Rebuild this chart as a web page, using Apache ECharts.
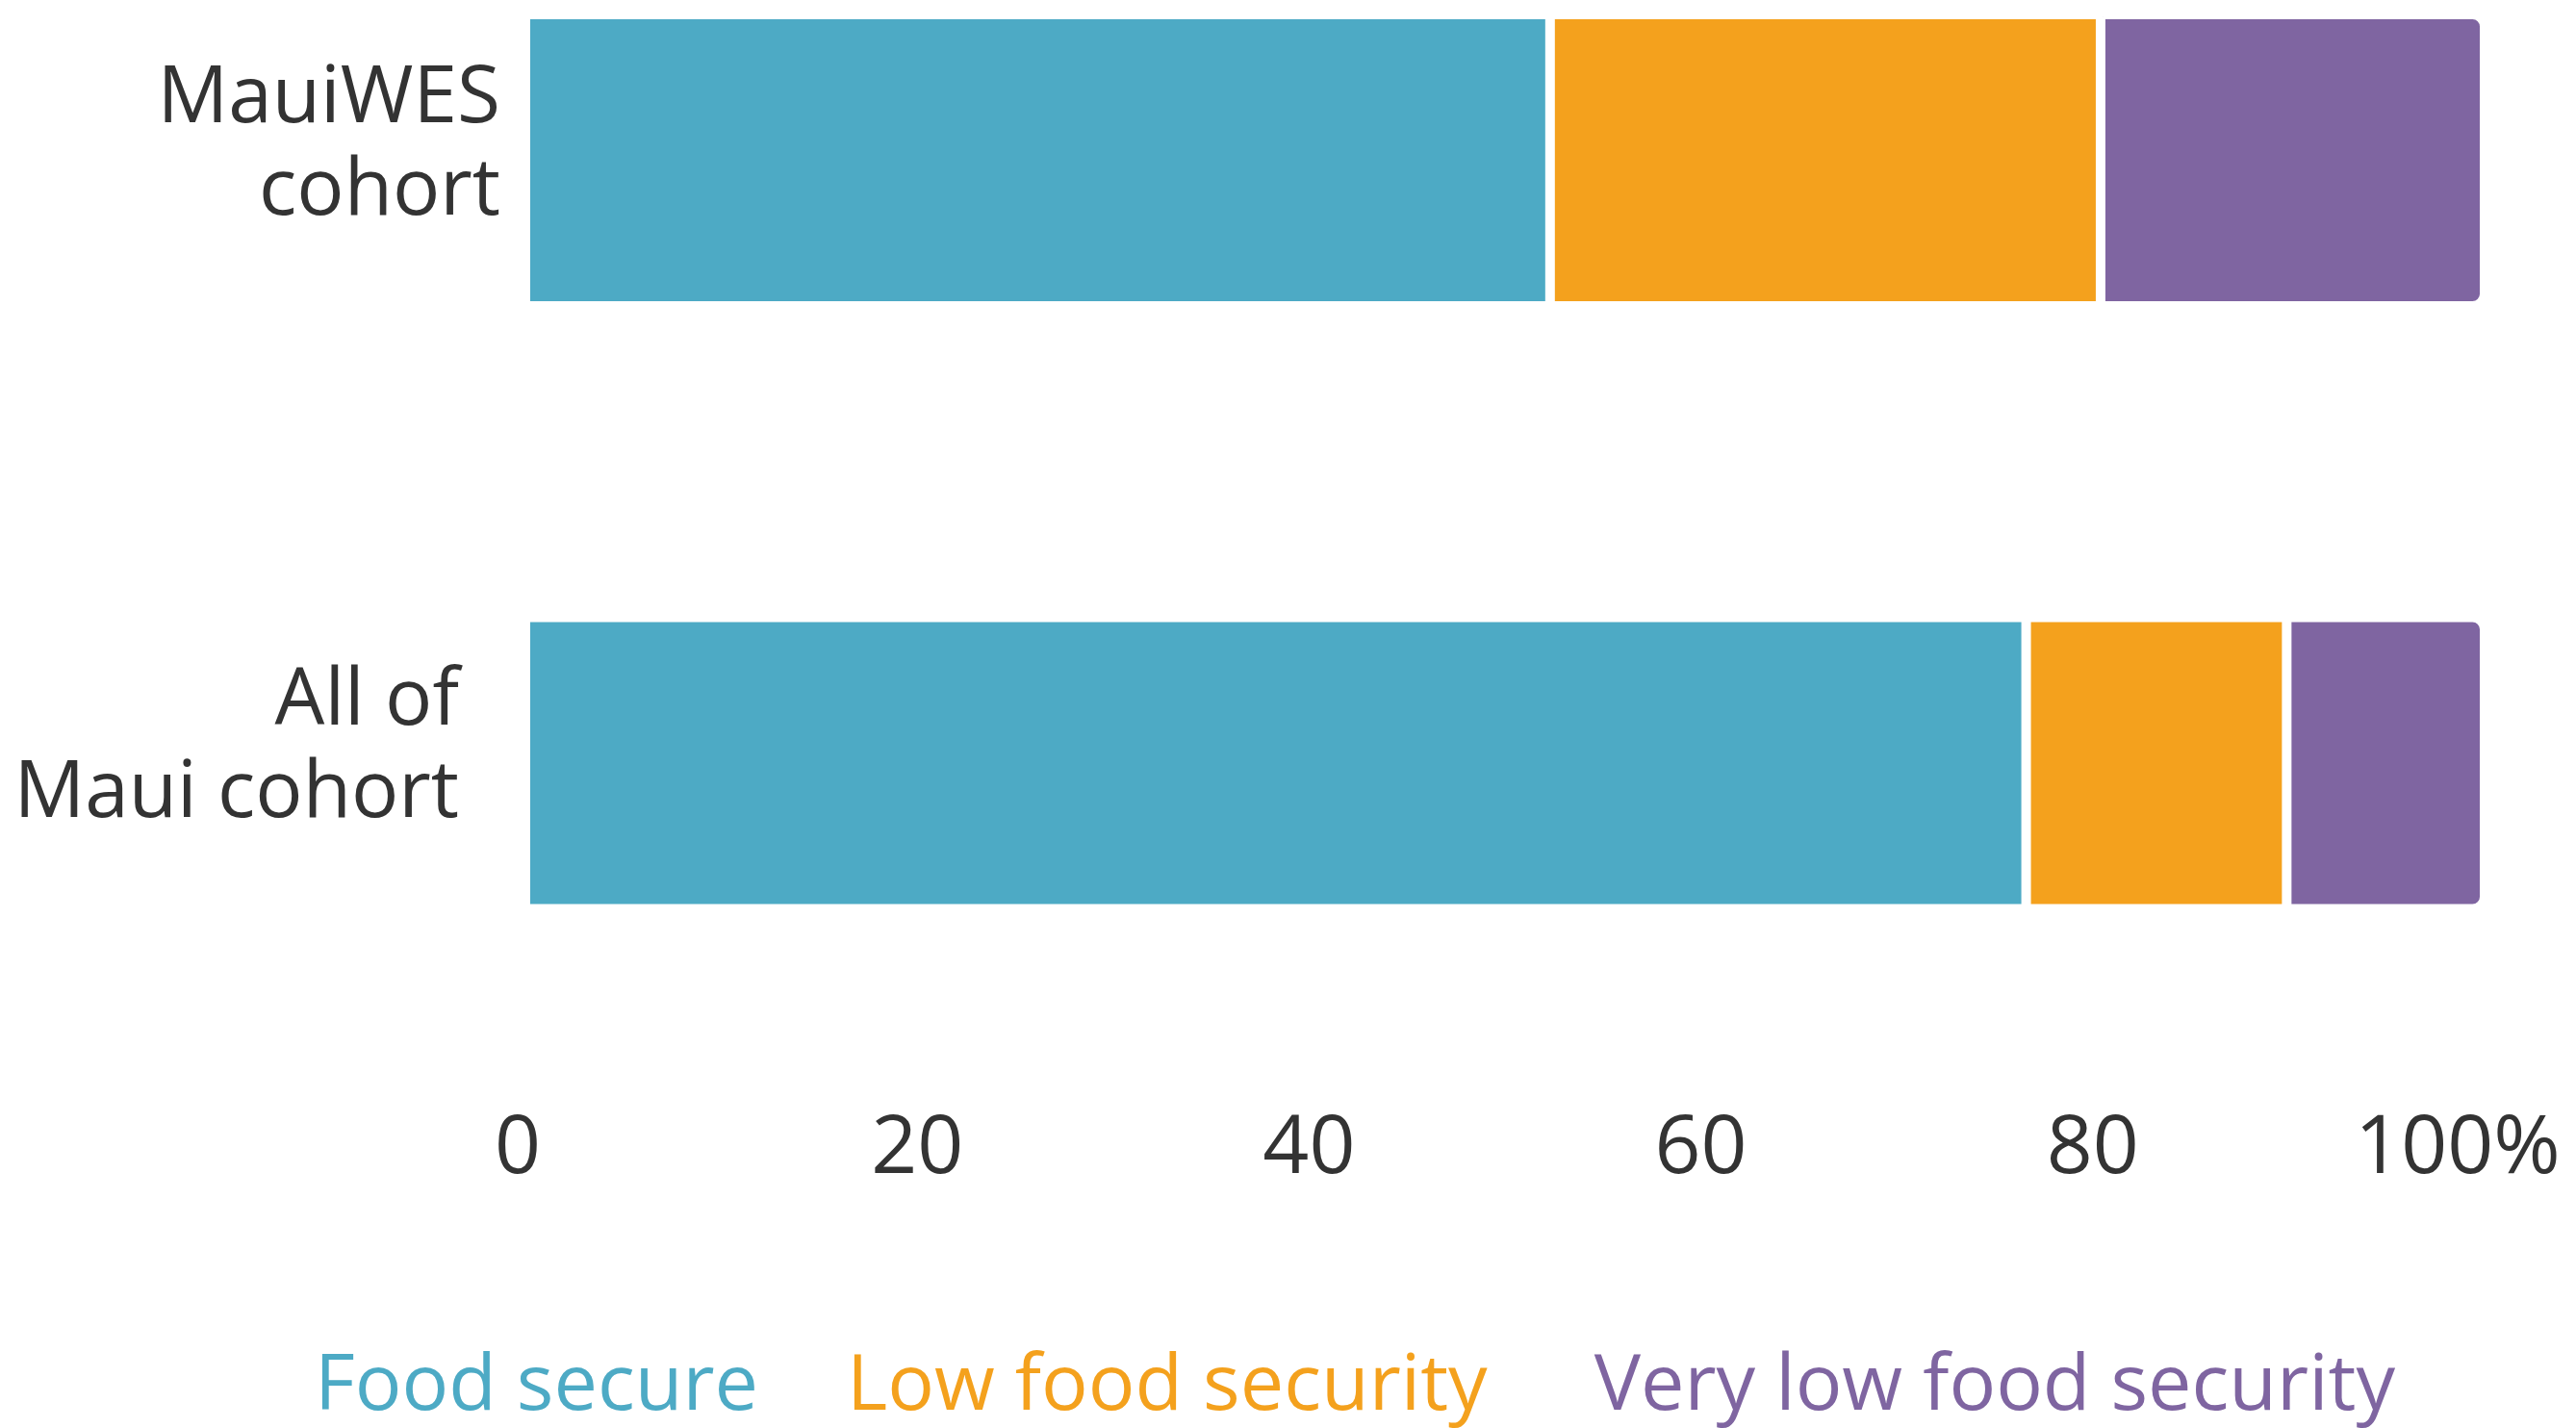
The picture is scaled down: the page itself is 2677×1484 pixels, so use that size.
<!DOCTYPE html>
<html>
<head>
<meta charset="utf-8">
<script src="https://cdn.jsdelivr.net/npm/echarts@6/dist/echarts.min.js"></script>
<style>
html,body{margin:0;padding:0;background:#fff;}
#chart{width:2677px;height:1484px;}
</style>
</head>
<body>
<div id="chart"></div>
<script>
const categories = ['MauiWES\ncohort', 'All of\nMaui cohort'];
const seriesNames = ['Food secure', 'Low food security', 'Very low food security'];
const foodSecure = [52.3, 76.6];
const lowFood = [28.1, 13.3];
const veryLowFood = [19.6, 10.1];
const xTicks = [0, 20, 40, 60, 80, 100];
const colors = ['#4DAAC5', '#F4A11D', '#7F65A1'];

const chart = echarts.init(document.getElementById('chart'), null, {renderer: 'canvas'});
const FONT = '"Open Sans", "Noto Sans", sans-serif';
const TXT = '#333333';

function seg(name, data, color, last) {
  return {
    name: name,
    type: 'bar',
    stack: 'total',
    data: data,
    barWidth: 303,
    silent: true,
    itemStyle: {
      color: color,
      borderColor: '#ffffff',
      borderWidth: 5,
      borderRadius: last ? [0, 10, 10, 0] : 0
    }
  };
}

const legendKeys = ['a', 'b', 'c'];
const legendRich = {};
legendKeys.forEach((k, i) => {
  legendRich[k] = {
    fontSize: 81, fontFamily: FONT, color: colors[i],
    padding: i === 2 ? [0, 0, 0, 19] : 0
  };
});

chart.setOption({
  animation: false,
  backgroundColor: '#ffffff',
  textStyle: {fontFamily: FONT},
  grid: {left: 546, right: 95, top: 166.5, height: 626.5, containLabel: false},
  legend: {
    top: 1396,
    left: 317,
    icon: 'none',
    itemWidth: 0,
    itemHeight: 0,
    itemGap: 87,
    selectedMode: false,
    textStyle: {fontFamily: FONT, fontSize: 81, rich: legendRich},
    formatter: function (name) {
      const i = seriesNames.indexOf(name);
      return '{' + legendKeys[i] + '|' + name + '}';
    },
    data: seriesNames.map((n, i) => ({name: n, textStyle: {color: colors[i]}}))
  },
  xAxis: {
    type: 'value',
    min: xTicks[0],
    max: xTicks[xTicks.length - 1],
    interval: xTicks[1] - xTicks[0],
    axisLine: {show: false},
    axisTick: {show: false},
    splitLine: {show: false},
    axisLabel: {
      margin: 360,
      color: TXT,
      fontFamily: FONT,
      fontSize: 84,
      formatter: function (v) {
        if (v === xTicks[0]) return '{z|' + v + '}';
        if (v === xTicks[xTicks.length - 1]) return '{h|' + v + '%}';
        return '{n|' + v + '}';
      },
      rich: {
        z: {fontSize: 84, color: TXT, fontFamily: FONT, padding: [0, 16, 0, 0]},
        h: {fontSize: 84, color: TXT, fontFamily: FONT, padding: [0, 56, 0, 0]},
        n: {fontSize: 84, color: TXT, fontFamily: FONT}
      }
    }
  },
  yAxis: {
    type: 'category',
    inverse: true,
    boundaryGap: false,
    data: categories,
    axisLine: {show: false},
    axisTick: {show: false},
    splitLine: {show: false},
    axisLabel: {
      margin: 26,
      align: 'right',
      color: TXT,
      fontFamily: FONT,
      fontSize: 82,
      lineHeight: 96,
      padding: [0, 0, 30, 0],
      formatter: function (v, i) {
        const key = i === 1 ? 'b' : 'a';
        return v.split('\n').map(l => '{' + key + '|' + l + '}').join('\n');
      },
      rich: {
        a: {fontSize: 82, lineHeight: 96, color: TXT, fontFamily: FONT},
        b: {fontSize: 82, lineHeight: 96, color: TXT, fontFamily: FONT, padding: [0, 43, 0, 0]}
      }
    }
  },
  series: [
    seg(seriesNames[0], foodSecure, colors[0], false),
    seg(seriesNames[1], lowFood, colors[1], false),
    seg(seriesNames[2], veryLowFood, colors[2], true)
  ]
});
</script>
</body>
</html>
